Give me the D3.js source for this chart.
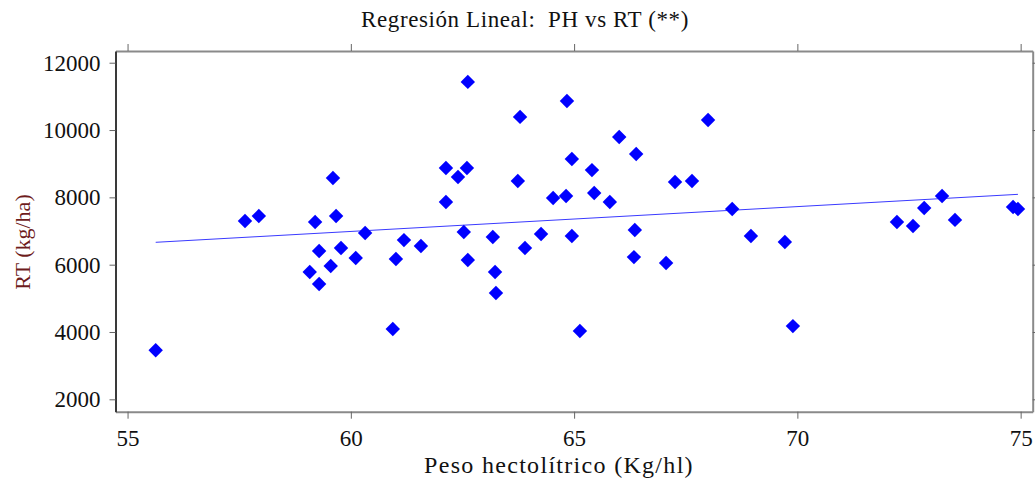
<!DOCTYPE html>
<html>
<head>
<meta charset="utf-8">
<script src="https://cdn.jsdelivr.net/npm/d3@7"></script>
<style>
  body { margin: 0; background: #fff; }
  text { font-family: "Liberation Serif", "Times New Roman", serif; white-space: pre; }
</style>
</head>
<body>
<script>
// data
const ph = [55.63, 57.63, 57.94, 59.20, 59.60, 59.67, 59.29, 59.78, 60.11, 59.55,
  59.08, 59.29, 60.32, 61.01, 61.19, 61.57, 60.94, 62.53, 63.18, 64.26,
  64.95, 66.36, 62.62, 63.90, 63.23, 63.25, 65.13, 66.34, 67.06, 62.62,
  64.84, 63.79, 68.00, 66.01, 66.39, 64.95, 62.13, 62.60, 62.40, 65.40,
  63.74, 67.26, 67.64, 62.13, 64.53, 64.82, 65.45, 65.80, 68.54, 68.96,
  69.72, 69.90, 72.23, 72.59, 72.84, 73.24, 73.53, 74.83, 74.94];
const rt = [3460, 7300, 7445, 7270, 8575, 7445, 6405, 6495, 6200, 5960,
  5780, 5425, 6940, 6170, 6730, 6555, 4090, 6970, 6820, 6910,
  6850, 7030, 6140, 6495, 5780, 5160, 4030, 6225, 6050, 11430,
  10860, 10390, 10300, 9795, 9290, 9140, 8870, 8870, 8605, 8810,
  8485, 8455, 8485, 7860, 7980, 8040, 8130, 7860, 7655, 6850,
  6675, 4175, 7270, 7150, 7685, 8040, 7330, 7715, 7655];

// fitted line (intercept, slope) as drawn in the chart
const fit = [2559, 73.8];

const xTicks = [55, 60, 65, 70, 75];
const yTicks = [2000, 4000, 6000, 8000, 10000, 12000];

const title = "Regresión Lineal:  PH vs RT (**)";
const xTitle = "Peso hectolítrico (Kg/hl)";
const yTitle = "RT (kg/ha)";

// canvas
const width = 1035;
const height = 486;
const pLeft = 115.5, pRight = 1032.7, pTop = 51, pBottom = 411.7;

const svg = d3.select("body").append("svg")
  .attr("width", width)
  .attr("height", height);

// scales
const x = d3.scaleLinear().domain([54.73, 75.27]).range([pLeft, pRight]);
const y = d3.scaleLinear().domain([1632, 12348]).range([pBottom, pTop]);

// axes
function styleAxis(g, lineColor) {
  g.selectAll(".domain").attr("stroke", lineColor).attr("stroke-width", 2);
  g.selectAll(".tick line").attr("stroke", "#666").attr("stroke-width", 1);
  g.selectAll(".tick text")
    .attr("font-size", 23)
    .attr("fill", "#111")
    .style("font-family", "'Liberation Serif', serif");
}

svg.append("g")
  .attr("transform", `translate(0,${pBottom})`)
  .call(d3.axisBottom(x).tickValues(xTicks).tickSize(7).tickSizeOuter(0).tickPadding(11))
  .call(g => styleAxis(g, "#8a8a8a"));

svg.append("g")
  .attr("transform", `translate(0,${pTop})`)
  .call(d3.axisTop(x).tickValues(xTicks).tickSize(7).tickSizeOuter(0).tickFormat(""))
  .call(g => styleAxis(g, "#8a8a8a"));

svg.append("g")
  .attr("transform", `translate(${pRight},0)`)
  .call(d3.axisRight(y).tickValues(yTicks).tickSize(7).tickSizeOuter(0).tickFormat(""))
  .call(g => styleAxis(g, "#8a8a8a"));

svg.append("g")
  .attr("transform", `translate(${pLeft},0)`)
  .call(d3.axisLeft(y).tickValues(yTicks).tickSize(6).tickSizeOuter(0).tickPadding(9)
    .tickFormat(d3.format("d")))
  .call(g => styleAxis(g, "#3a3a3a"));

// regression line
const xr = d3.extent(ph);
svg.append("line")
  .attr("x1", x(xr[0]))
  .attr("y1", y(fit[0] + fit[1] * xr[0]))
  .attr("x2", x(xr[1]))
  .attr("y2", y(fit[0] + fit[1] * xr[1]))
  .attr("stroke", "#3a3aff")
  .attr("stroke-width", 1);

// diamonds
const diamond = d3.symbol().type(d3.symbolSquare).size(104);
svg.append("g")
  .selectAll("path")
  .data(ph.map((v, i) => [v, rt[i]]))
  .enter()
  .append("path")
  .attr("d", diamond)
  .attr("transform", d => `translate(${x(d[0])},${y(d[1])}) rotate(45)`)
  .attr("fill", "#0000ff");

// titles
svg.append("text")
  .attr("x", 525)
  .attr("y", 27)
  .attr("text-anchor", "middle")
  .attr("font-size", 23)
  .attr("letter-spacing", 0.6)
  .attr("fill", "#111")
  .text(title);

svg.append("text")
  .attr("x", 559)
  .attr("y", 473)
  .attr("text-anchor", "middle")
  .attr("font-size", 24)
  .attr("letter-spacing", 1.3)
  .attr("fill", "#111")
  .text(xTitle);

svg.append("text")
  .attr("transform", "translate(30,242) rotate(-90)")
  .attr("text-anchor", "middle")
  .attr("font-size", 22)
  .attr("fill", "#6e1c1c")
  .text(yTitle);
</script>
</body>
</html>
